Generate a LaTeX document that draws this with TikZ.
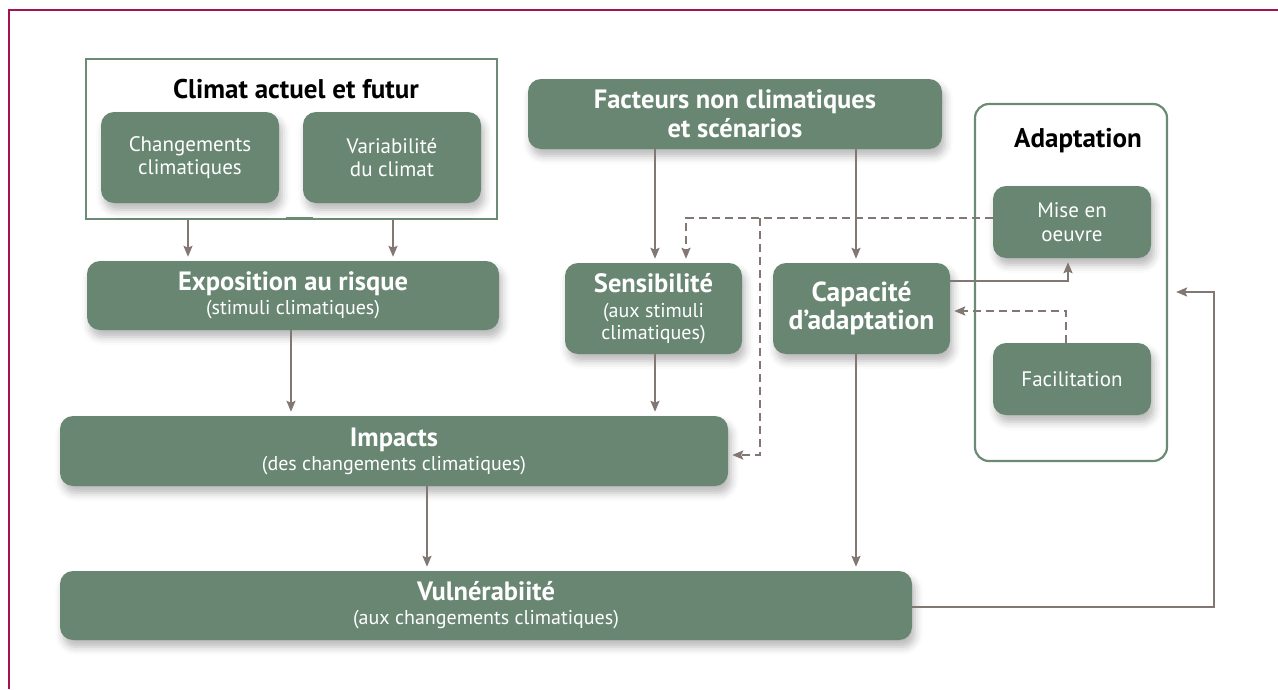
\documentclass[tikz,border=0pt]{standalone}
\usepackage{fontspec}
\setmainfont{PT Sans}
\usetikzlibrary{arrows.meta,shadows.blur}
\definecolor{boxgreen}{RGB}{104,134,114}
\definecolor{edgegreen}{RGB}{107,139,116}
\definecolor{conn}{RGB}{131,119,115}
\definecolor{frame}{RGB}{163,19,79}
\tikzset{
  gbox/.style={rectangle, rounded corners=13pt, fill=boxgreen, text=white, align=center,
    inner sep=0pt, blur shadow={shadow xshift=3pt, shadow yshift=-7pt, shadow blur radius=8pt, shadow opacity=28}},
  big/.style={font=\fontsize{26.5}{24}\selectfont\bfseries},
  big2/.style={font=\fontsize{26.5}{28.5}\selectfont\bfseries},
  reg/.style={font=\fontsize{21}{23.5}\selectfont},
  grp/.style={draw=edgegreen, line width=2.2pt, inner sep=0pt},
  arr/.style={draw=conn, line width=2pt, -{Stealth[length=11pt,width=9pt,inset=2pt]}, shorten >=4pt},
  darr/.style={arr, line width=2.3pt, dash pattern=on 8pt off 5pt},
  ttl/.style={font=\fontsize{27}{30}\selectfont\bfseries, text=black, inner sep=0pt}
}
\newcommand{\sub}[1]{{\fontsize{20}{22.5}\selectfont\mdseries #1}}
\begin{document}
\begin{tikzpicture}[x=1pt,y=-1pt]
\useasboundingbox (0,0) rectangle (1278,689);
\draw[frame, line width=1.6pt] (9,689) -- (9,10) -- (1278,10);

% groups
\node[grp, minimum width=411pt, minimum height=160pt] (climat) at (291.5,139) {};
\node[ttl] (climatt) at (296,89) {Climat actuel et futur};
\node[grp, rounded corners=14pt, minimum width=192pt, minimum height=357pt] (adapt) at (1071,282.5) {};
\node[ttl] (adaptt) at (1078,141) {Adaptation};
\fill[edgegreen] (286,216.5) rectangle (313,220);

% boxes
\node[gbox, reg, minimum width=178pt, minimum height=91pt] (chg) at (190,157.5) {Changements\\climatiques};
\node[gbox, reg, minimum width=178pt, minimum height=91pt] (var) at (392,157.5) {Variabilité\\du climat};
\node[gbox, big, minimum width=412pt, minimum height=69pt] (expo) at (293,295.5) {Exposition au risque\\\sub{(stimuli climatiques)}};
\node[gbox, big2, minimum width=414pt, minimum height=70pt] (fact) at (735,114) {Facteurs non climatiques\\et scénarios};
\node[gbox, font=\fontsize{26.5}{25}\selectfont\bfseries, minimum width=177pt, minimum height=91pt] (sens) at (653.5,308.5) {Sensibilité\\\sub{(aux stimuli}\\[-2.5pt]\sub{climatiques)}};
\node[gbox, font=\fontsize{27.5}{28.5}\selectfont\bfseries, minimum width=177pt, minimum height=91pt] (cap) at (861.5,308.5) {Capacité\\d’adaptation};
\node[gbox, reg, minimum width=158pt, minimum height=72pt] (mise) at (1072,222) {Mise en\\oeuvre};
\node[gbox, reg, minimum width=158pt, minimum height=72pt] (faci) at (1072,379) {Facilitation};
\node[gbox, big, minimum width=668pt, minimum height=70pt] (imp) at (394,451) {Impacts\\\sub{(des changements climatiques)}};
\node[gbox, big, minimum width=852pt, minimum height=69pt] (vul) at (486,605.5) {Vulnérabiité\\\sub{(aux changements climatiques)}};

% helper coordinates
\coordinate (cx) at (856,0);
\coordinate (ix) at (427,0);
\coordinate (ex) at (291,0);
\coordinate (sx) at (655,0);
\coordinate (c1) at (188,0);
\coordinate (c2) at (393,0);
\coordinate (d1) at (686,218);
\coordinate (d2) at (760,218);
\coordinate (d3) at (760,455);
\coordinate (m1) at (1068,281);
\coordinate (f1) at (1066,311);
\coordinate (v1) at (1214,607);
\coordinate (v2) at (1214,292);

% connectors
\draw[arr] (climat.south -| c1) -- (expo.north -| c1);
\draw[arr] (climat.south -| c2) -- (expo.north -| c2);
\draw[arr] (expo.south -| ex) -- (imp.north -| ex);
\draw[arr] (fact.south -| sx) -- (sens.north -| sx);
\draw[arr] (fact.south -| cx) -- (cap.north -| cx);
\draw[arr] (sens.south -| sx) -- (imp.north -| sx);
\draw[arr] (imp.south -| ix) -- (vul.north -| ix);
\draw[arr] (cap.south -| cx) -- (vul.north -| cx);
\draw[darr] (mise.west |- d1) -- (d1) -- (sens.north -| d1);
\draw[darr] (d2) -- (d3) -- (imp.east |- d3);
\draw[arr] (cap.east |- m1) -- (m1) -- (mise.south -| m1);
\draw[darr] (faci.north -| f1) -- (f1) -- (cap.east |- f1);
\draw[arr, shorten >=8pt] (vul.east |- v1) -- (v1) -- (v2) -- (adapt.east |- v2);
\end{tikzpicture}
\end{document}
